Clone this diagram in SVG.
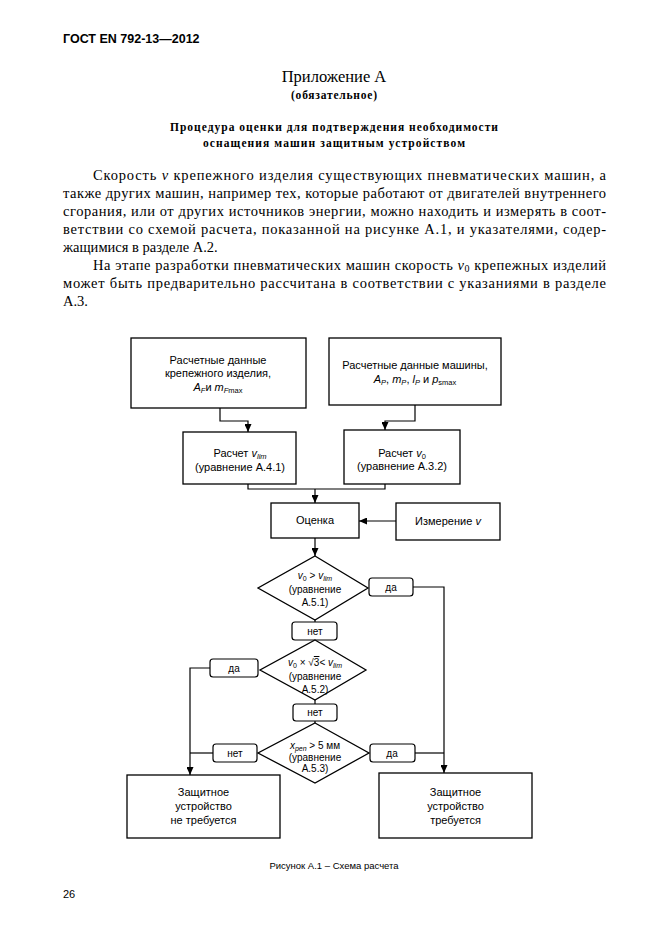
<svg xmlns="http://www.w3.org/2000/svg" width="661" height="935" viewBox="0 0 661 935">
<style>
.bg{fill:#fff}
.box{fill:#fff;stroke:#000;stroke-width:1.3}
.lbl{fill:#fff;stroke:#000;stroke-width:1.2}
.ln{fill:none;stroke:#000;stroke-width:1.2}
.t{font-family:"Liberation Sans",Arial,sans-serif;font-size:11px;text-anchor:middle;fill:#000}
.ts{font-family:"Liberation Sans",Arial,sans-serif;font-size:10px;text-anchor:middle;fill:#000}
.body{font-family:"Liberation Serif","Times New Roman",serif;font-size:14.5px;fill:#000}
.ttl{font-family:"Liberation Serif","Times New Roman",serif;text-anchor:middle;fill:#000}
.i{font-style:italic}
</style>
<defs>
<marker id="ah" markerWidth="8" markerHeight="7" refX="8" refY="3.5" orient="auto" markerUnits="userSpaceOnUse">
<path d="M0,0 L8,3.5 L0,7 z" fill="#000"/>
</marker>
</defs>
<rect class="bg" width="661" height="935"/>

<g id="page-text">
<text x="63" y="43" style="font-family:'Liberation Sans',Arial,sans-serif;font-weight:bold;font-size:12.5px">ГОСТ EN 792-13—2012</text>
<text class="ttl" x="334" y="82" font-size="16.5">Приложение А</text>
<text class="ttl" x="334" y="99" font-size="11.5" font-weight="bold" textLength="86" lengthAdjust="spacing">(обязательное)</text>
<text class="ttl" x="334" y="131" font-size="11.5" font-weight="bold" textLength="328" lengthAdjust="spacing">Процедура оценки для подтверждения необходимости</text>
<text class="ttl" x="334" y="147" font-size="11.5" font-weight="bold" textLength="262" lengthAdjust="spacing">оснащения машин защитным устройством</text>
<text class="body" x="93" y="180" textLength="513" lengthAdjust="spacing">Скорость <tspan class="i">v</tspan> крепежного изделия существующих пневматических машин, а</text>
<text class="body" x="63" y="198" textLength="543" lengthAdjust="spacing">также других машин, например тех, которые работают от двигателей внутреннего</text>
<text class="body" x="63" y="216" textLength="543" lengthAdjust="spacing">сгорания, или от других источников энергии, можно находить и измерять в соот-</text>
<text class="body" x="63" y="234" textLength="543" lengthAdjust="spacing">ветствии со схемой расчета, показанной на рисунке А.1, и указателями, содер-</text>
<text class="body" x="63" y="252">жащимися в разделе А.2.</text>
<text class="body" x="93" y="270" textLength="513" lengthAdjust="spacing">На этапе разработки пневматических машин скорость <tspan class="i">v</tspan><tspan font-size="10" dy="2">0</tspan><tspan dy="-2"> крепежных изделий</tspan></text>
<text class="body" x="63" y="288" textLength="543" lengthAdjust="spacing">может быть предварительно рассчитана в соответствии с указаниями в разделе</text>
<text class="body" x="63" y="306">А.3.</text>
<text x="334" y="869" style="font-family:'Liberation Sans',Arial,sans-serif;font-size:9.5px;text-anchor:middle">Рисунок А.1 – Схема расчета</text>
<text x="63" y="898" style="font-family:'Liberation Sans',Arial,sans-serif;font-size:11px">26</text>
</g>

<g id="connectors">
<path class="ln" d="M220,408 V421 H248 V432" marker-end="url(#ah)"/>
<path class="ln" d="M415,405 V421 H385 V430" marker-end="url(#ah)"/>
<path class="ln" d="M248,484 V489 H385 V484"/>
<path class="ln" d="M315,489 V503" marker-end="url(#ah)"/>
<path class="ln" d="M396,521 H359" marker-end="url(#ah)"/>
<path class="ln" d="M315,538 V556" marker-end="url(#ah)"/>
<path class="ln" d="M413,587 H444 V773" marker-end="url(#ah)"/>
<path class="ln" d="M315,620 V622"/>
<path class="ln" d="M315,700 V704"/>
<path class="ln" d="M315,721 V723"/>
<path class="ln" d="M210,668 H190 V775" marker-end="url(#ah)"/>
<path class="ln" d="M213,753 H190"/>
<path class="ln" d="M415,753 H444"/>
</g>

<g id="n-fastener">
<rect class="box" x="131" y="338" width="175" height="70"/>
<text class="t" x="218" y="364">Расчетные данные</text>
<text class="t" x="218" y="377">крепежного изделия,</text>
<text class="t" x="218" y="391"><tspan class="i">A</tspan><tspan class="i" font-size="7.5" dy="2">F</tspan><tspan dy="-2">и </tspan><tspan class="i">m</tspan><tspan font-size="7.5" dy="2"><tspan class="i">F</tspan>max</tspan></text>
</g>

<g id="n-machine">
<rect class="box" x="329" y="338" width="172" height="67"/>
<text class="t" x="415" y="369">Расчетные данные машины,</text>
<text class="t" x="415" y="383"><tspan class="i">A</tspan><tspan class="i" font-size="7.5" dy="2">P</tspan><tspan dy="-2">, </tspan><tspan class="i">m</tspan><tspan class="i" font-size="7.5" dy="2">P</tspan><tspan dy="-2">, </tspan><tspan class="i">l</tspan><tspan class="i" font-size="7.5" dy="2">P</tspan><tspan dy="-2"> и </tspan><tspan class="i">p</tspan><tspan font-size="7.5" dy="2">smax</tspan></text>
</g>

<g id="n-vlim">
<rect class="box" x="183" y="432" width="113" height="52"/>
<text class="t" x="240" y="457">Расчет <tspan class="i">v</tspan><tspan class="i" font-size="7.5" dy="2">lim</tspan></text>
<text class="t" x="240" y="471">(уравнение А.4.1)</text>
</g>

<g id="n-v0">
<rect class="box" x="344" y="430" width="116" height="54"/>
<text class="t" x="402" y="457">Расчет <tspan class="i">v</tspan><tspan font-size="7.5" dy="2">0</tspan></text>
<text class="t" x="402" y="470">(уравнение А.3.2)</text>
</g>

<g id="n-eval">
<rect class="box" x="271" y="503" width="88" height="35"/>
<text class="t" x="315" y="524">Оценка</text>
</g>

<g id="n-measure">
<rect class="box" x="396" y="503" width="104" height="37"/>
<text class="t" x="448" y="525">Измерение <tspan class="i">v</tspan></text>
</g>

<g id="d1">
<polygon class="box" points="315,556 368,588 315,620 258,588"/>
<text class="ts" x="315" y="579"><tspan class="i">v</tspan><tspan font-size="7" dy="2">0</tspan><tspan dy="-2"> &gt; </tspan><tspan class="i">v</tspan><tspan class="i" font-size="7" dy="2">lim</tspan></text>
<text class="ts" x="315" y="593">(уравнение</text>
<text class="ts" x="315" y="606">А.5.1)</text>
</g>

<g id="l-yes1">
<rect class="lbl" x="369" y="578" width="44" height="18" rx="3"/>
<text class="ts" x="391" y="591">да</text>
</g>

<g id="l-no1">
<rect class="lbl" x="292" y="622" width="45" height="18" rx="3"/>
<text class="ts" x="315" y="635">нет</text>
</g>

<g id="d2">
<polygon class="box" points="315,640 366,670 315,700 260,670"/>
<text class="ts" x="315" y="666"><tspan class="i">v</tspan><tspan font-size="7" dy="2">0</tspan><tspan dy="-2"> × √</tspan><tspan style="text-decoration:overline">3</tspan><tspan>&lt; </tspan><tspan class="i">v</tspan><tspan class="i" font-size="7" dy="2">lim</tspan></text>
<text class="ts" x="315" y="680">(уравнение</text>
<text class="ts" x="315" y="693">А.5.2)</text>
</g>

<g id="l-yes2">
<rect class="lbl" x="210" y="659" width="48" height="18" rx="3"/>
<text class="ts" x="234" y="672">да</text>
</g>

<g id="l-no2">
<rect class="lbl" x="293" y="704" width="44" height="17" rx="3"/>
<text class="ts" x="315" y="716">нет</text>
</g>

<g id="d3">
<polygon class="box" points="315,723 369,753 315,783 258,753"/>
<text class="ts" x="315" y="749"><tspan class="i">x</tspan><tspan class="i" font-size="7" dy="2">pen</tspan><tspan dy="-2"> &gt; 5 мм</tspan></text>
<text class="ts" x="315" y="761">(уравнение</text>
<text class="ts" x="315" y="772">А.5.3)</text>
</g>

<g id="l-no3">
<rect class="lbl" x="213" y="744" width="44" height="18" rx="3"/>
<text class="ts" x="235" y="757">нет</text>
</g>

<g id="l-yes3">
<rect class="lbl" x="370" y="744" width="45" height="18" rx="3"/>
<text class="ts" x="392" y="757">да</text>
</g>

<g id="n-notreq">
<rect class="box" x="127" y="775" width="153" height="63"/>
<text class="t" x="203.5" y="796">Защитное</text>
<text class="t" x="203.5" y="810">устройство</text>
<text class="t" x="203.5" y="824">не требуется</text>
</g>

<g id="n-req">
<rect class="box" x="379" y="773" width="153" height="65"/>
<text class="t" x="455.5" y="796">Защитное</text>
<text class="t" x="455.5" y="810">устройство</text>
<text class="t" x="455.5" y="824">требуется</text>
</g>
</svg>
